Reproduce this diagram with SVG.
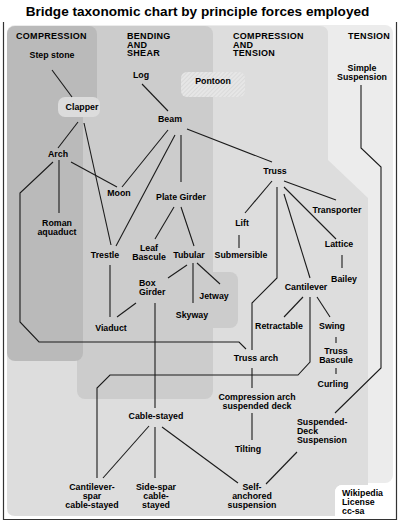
<svg xmlns="http://www.w3.org/2000/svg" width="400" height="523" viewBox="0 0 400 523">
<style>
.t{font-family:"Liberation Sans",Arial,sans-serif;font-weight:bold;font-size:8.8px;fill:#000;text-anchor:middle}
.s{text-anchor:start}
.cat{font-family:"Liberation Sans",Arial,sans-serif;font-weight:bold;font-size:9px;fill:#000;letter-spacing:0.3px}
.ttl{font-family:"Liberation Sans",Arial,sans-serif;font-weight:bold;font-size:13.6px;fill:#000;text-anchor:middle}
#connectors path,#connectors line{fill:none;stroke:#1a1a1a;stroke-width:1.1}
</style>
<defs>
<pattern id="hatch" width="3" height="3" patternUnits="userSpaceOnUse" patternTransform="rotate(45)">
<rect width="3" height="3" fill="#e6e6e6"/>
<line x1="0" y1="0" x2="0" y2="3" stroke="#d2d2d2" stroke-width="1.2"/>
</pattern>
</defs>
<rect x="0" y="0" width="400" height="523" fill="#fff"/>
<text class="ttl" x="197.5" y="16">Bridge taxonomic chart by principle forces employed</text>
<g id="regions">
<rect x="7" y="25" width="386" height="458" rx="8" fill="#ececec"/>
<path d="M7,34 Q7,26 15,26 L320,26 Q328,26 328,34 L328,160 L368,198 L368,485 L343,485 Q335,485 335,493 L335,516 L15,516 Q7,516 7,508 Z" fill="#dddddd"/>
<rect x="77" y="26" width="136" height="373" rx="8" fill="#cccccc"/>
<rect x="150" y="272" width="88" height="56" rx="8" fill="#cccccc"/>
<rect x="7" y="26" width="90" height="90" rx="8" fill="#bababa"/>
<rect x="7" y="100" width="76" height="261" rx="8" fill="#bababa"/>
<rect x="58" y="97" width="42" height="20" rx="7" fill="#dcdcdc"/>
<rect x="181" y="72" width="64" height="25" rx="6" fill="url(#hatch)"/>
<rect x="335" y="485" width="70" height="45" rx="7" fill="#fff"/>
</g>
<g id="categories">
<text class="cat" x="16" y="39">COMPRESSION</text>
<text class="cat" x="127" y="39">BENDING</text>
<text class="cat" x="127" y="47.5">AND</text>
<text class="cat" x="127" y="56">SHEAR</text>
<text class="cat" x="233" y="39">COMPRESSION</text>
<text class="cat" x="233" y="47.5">AND</text>
<text class="cat" x="233" y="56">TENSION</text>
<text class="cat" x="348" y="39">TENSION</text>
</g>
<g id="connectors">
<line x1="52" y1="70" x2="72" y2="97"/>
<line x1="142" y1="84" x2="168" y2="111"/>
<path d="M361,85 L361,148 L381,167 L381,368 L335,413"/>
<line x1="78" y1="122" x2="58" y2="148"/>
<line x1="84" y1="123" x2="111" y2="245"/>
<line x1="168" y1="130" x2="122" y2="187"/>
<line x1="175" y1="135" x2="116" y2="246"/>
<line x1="181" y1="135" x2="181" y2="182"/>
<line x1="187" y1="129" x2="272" y2="162"/>
<line x1="71" y1="162" x2="117" y2="187"/>
<line x1="59" y1="160" x2="59" y2="213"/>
<path d="M53,162 L20,193 L20,322 L39,342 L239,342 L246,349"/>
<line x1="174" y1="207" x2="155" y2="239"/>
<line x1="181" y1="207" x2="194" y2="246"/>
<line x1="110" y1="265" x2="110" y2="317"/>
<line x1="136" y1="303" x2="117" y2="317"/>
<line x1="187" y1="265" x2="168" y2="278"/>
<line x1="193" y1="263" x2="193" y2="303"/>
<line x1="197" y1="263" x2="220" y2="284"/>
<line x1="155" y1="303" x2="155" y2="408"/>
<line x1="149" y1="426" x2="103" y2="478"/>
<line x1="155" y1="427" x2="155" y2="478"/>
<line x1="162" y1="427" x2="238" y2="483"/>
<path d="M310,297 L310,362 L298,375 L110,375 L97,388 L97,478"/>
<line x1="272" y1="181" x2="245" y2="213"/>
<line x1="284" y1="181" x2="336" y2="200"/>
<line x1="284" y1="187" x2="336" y2="239"/>
<line x1="284" y1="194" x2="310" y2="278"/>
<path d="M277,187 L277,278 L252,303 L252,350"/>
<line x1="239" y1="235" x2="239" y2="248"/>
<line x1="342" y1="255" x2="342" y2="268"/>
<line x1="303" y1="297" x2="284" y2="317"/>
<line x1="317" y1="297" x2="330" y2="317"/>
<line x1="336" y1="337" x2="336" y2="343"/>
<line x1="336" y1="368" x2="336" y2="374"/>
<line x1="252" y1="368" x2="252" y2="388"/>
<line x1="252" y1="413" x2="252" y2="440"/>
<line x1="297" y1="452" x2="266" y2="484"/>
</g>
<g id="n-step"><text class="t" x="52" y="58">Step stone</text></g>
<g id="n-log"><text class="t" x="141" y="78">Log</text></g>
<g id="n-pontoon"><text class="t" x="213" y="84">Pontoon</text></g>
<g id="n-simple"><text class="t" x="362" y="71">Simple</text><text class="t" x="362" y="80">Suspension</text></g>
<g id="n-clapper"><text class="t" x="82" y="110">Clapper</text></g>
<g id="n-beam"><text class="t" x="170" y="122">Beam</text></g>
<g id="n-arch"><text class="t" x="58" y="157">Arch</text></g>
<g id="n-truss"><text class="t" x="275" y="174">Truss</text></g>
<g id="n-moon"><text class="t" x="119" y="196">Moon</text></g>
<g id="n-plate"><text class="t" x="181" y="200">Plate Girder</text></g>
<g id="n-transporter"><text class="t" x="337" y="213">Transporter</text></g>
<g id="n-lift"><text class="t" x="242" y="226">Lift</text></g>
<g id="n-roman"><text class="t" x="57" y="226">Roman</text><text class="t" x="57" y="235">aquaduct</text></g>
<g id="n-lattice"><text class="t" x="339" y="247">Lattice</text></g>
<g id="n-leaf"><text class="t" x="149" y="251">Leaf</text><text class="t" x="149" y="260">Bascule</text></g>
<g id="n-trestle"><text class="t" x="105" y="258">Trestle</text></g>
<g id="n-tubular"><text class="t" x="189" y="258">Tubular</text></g>
<g id="n-submersible"><text class="t" x="241" y="258">Submersible</text></g>
<g id="n-bailey"><text class="t" x="344" y="282">Bailey</text></g>
<g id="n-box"><text class="t s" x="139" y="286">Box</text><text class="t s" x="139" y="295">Girder</text></g>
<g id="n-cantilever"><text class="t" x="306" y="290">Cantilever</text></g>
<g id="n-jetway"><text class="t" x="214" y="299">Jetway</text></g>
<g id="n-skyway"><text class="t" x="192" y="318">Skyway</text></g>
<g id="n-retractable"><text class="t" x="279" y="329">Retractable</text></g>
<g id="n-swing"><text class="t" x="332" y="329">Swing</text></g>
<g id="n-viaduct"><text class="t" x="111" y="331">Viaduct</text></g>
<g id="n-trussbascule"><text class="t" x="336" y="354">Truss</text><text class="t" x="336" y="363">Bascule</text></g>
<g id="n-trussarch"><text class="t" x="256" y="361">Truss arch</text></g>
<g id="n-curling"><text class="t" x="333" y="387">Curling</text></g>
<g id="n-comparch"><text class="t" x="257" y="400">Compression arch</text><text class="t" x="257" y="409">suspended deck</text></g>
<g id="n-cable"><text class="t" x="156" y="419">Cable-stayed</text></g>
<g id="n-suspdeck"><text class="t s" x="297" y="425">Suspended-</text><text class="t s" x="297" y="434">Deck</text><text class="t s" x="297" y="443">Suspension</text></g>
<g id="n-tilting"><text class="t" x="248" y="452">Tilting</text></g>
<g id="n-cantspar"><text class="t" x="92" y="490">Cantilever-</text><text class="t" x="92" y="499">spar</text><text class="t" x="92" y="508">cable-stayed</text></g>
<g id="n-sidespar"><text class="t" x="156" y="490">Side-spar</text><text class="t" x="156" y="499">cable-</text><text class="t" x="156" y="508">stayed</text></g>
<g id="n-self"><text class="t" x="252" y="490">Self-</text><text class="t" x="252" y="499">anchored</text><text class="t" x="252" y="508">suspension</text></g>
<g id="n-wiki"><text class="t s" x="342" y="496">Wikipedia</text><text class="t s" x="342" y="505">License</text><text class="t s" x="342" y="514">cc-sa</text></g>
<g id="frame"><path d="M3.5,22 L3.5,519.5 L396.5,519.5 L396.5,22" fill="none" stroke="#333" stroke-width="1.2"/></g>
</svg>
